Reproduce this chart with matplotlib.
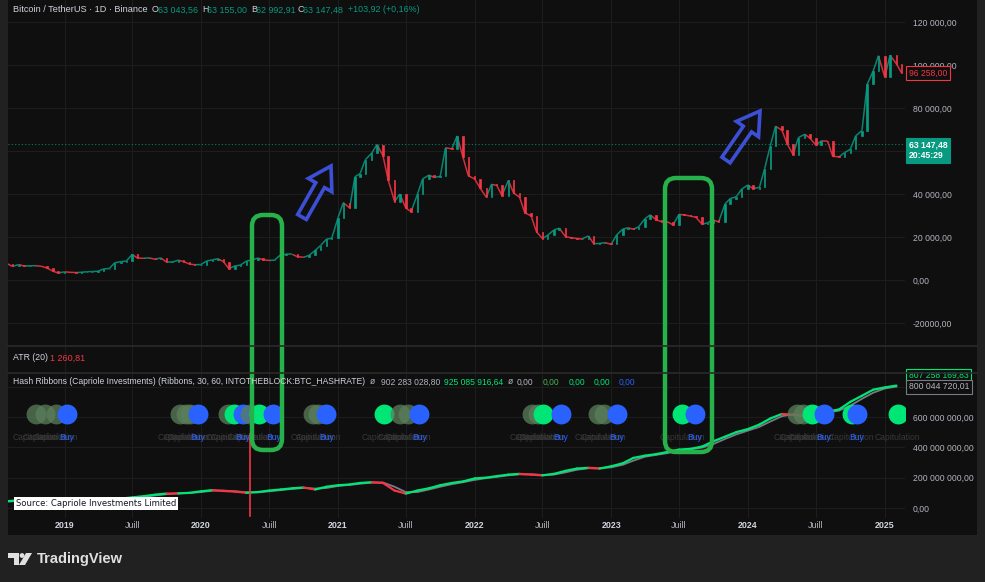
import numpy as np
import pandas as pd
import matplotlib
matplotlib.use("Agg")
import matplotlib.pyplot as plt
import matplotlib.dates as mdates
import matplotlib.transforms as mtransforms
from matplotlib.collections import LineCollection
from matplotlib.patches import Rectangle, FancyBboxPatch, Polygon

W, H = 985, 582

# BTC/USDT closes, 1st and 15th of each month from 2018-08-01
price_close = [
    7600, 6300, 7200, 6500, 6600, 6700, 6350, 5600, 4100, 3250,
    3800, 3600, 3450, 3620, 3820, 3920, 4100, 5150, 5350, 8000, 8550, 8800,
    11900, 10200, 10100, 10300, 9600, 10300, 8300, 8300, 9200, 8600, 7400, 7100,
    7200, 8800, 9400, 9900, 8500, 5300, 6600, 6900, 8800, 9300, 10200, 9400,
    9100, 9200, 11800, 11900, 11900, 10800, 10600, 11400, 13800, 16000, 19000, 19400,
    29000, 36000, 33500, 48000, 49500, 56000, 59000, 63000, 57800, 46500, 36500, 40000,
    33500, 31800, 39800, 47000, 48800, 47700, 48200, 61500, 61000, 67000, 57000, 48500,
    47000, 43000, 38500, 44500, 44000, 39300, 46300, 40500, 38500, 31300, 29800, 22500,
    19300, 20800, 23300, 24100, 20100, 19700, 19300, 19100, 20500, 16900, 17000, 17400,
    16600, 20900, 23700, 24300, 23600, 24700, 28500, 30300, 28000, 27200, 27000, 25600,
    30500, 30300, 29700, 29200, 25900, 26600, 27900, 27000, 35400, 37900, 38700, 42200,
    44200, 42500, 43100, 51800, 62400, 71500, 69700, 63400, 58300, 66200, 67800, 66000,
    62700, 64700, 64600, 57500, 57300, 59200, 60800, 67000, 69500, 91000, 97200, 104300,
    94400, 104500, 100600, 96258,
]

# hash rate, millions of TH/s, monthly from 2018-08
hash_fast = [
    45, 50, 53, 45, 38,
    42, 44, 45, 48, 55, 62, 70, 78, 88, 95, 96, 100,
    110, 118, 112, 108, 100, 105, 115, 122, 130, 135, 122, 140,
    150, 155, 165, 170, 165, 115, 95, 115, 130, 150, 165, 175,
    195, 200, 210, 220, 225, 220, 215, 225, 245, 260, 265, 260,
    275, 295, 330, 345, 355, 370, 385, 390, 405, 440, 470, 500,
    520, 550, 590, 620, 615, 605, 625, 635, 650, 700, 740, 780,
    795, 807,
]
hash_slow = [
    42, 47, 51, 48, 42,
    41, 43, 44, 46, 51, 58, 66, 74, 83, 91, 97, 99,
    105, 114, 115, 110, 104, 104, 110, 118, 126, 132, 128, 132,
    145, 152, 160, 167, 168, 140, 105, 105, 122, 140, 157, 170,
    185, 197, 205, 215, 222, 222, 218, 220, 235, 252, 262, 262,
    268, 285, 312, 338, 350, 362, 378, 387, 398, 422, 455, 485,
    510, 535, 570, 605, 618, 610, 615, 630, 642, 675, 720, 760,
    788, 800,
]

cap_dates = ['2018-10-16', '2018-11-11', '2018-12-08', '2019-11-06', '2019-11-22',
             '2019-12-03', '2020-03-14', '2020-05-12', '2020-10-27', '2020-11-09',
             '2021-06-16', '2021-07-07', '2022-06-04', '2022-06-20', '2022-11-26',
             '2022-12-12', '2024-05-11', '2024-05-27']
recovery_dates = ['2020-03-28', '2020-06-05', '2021-05-05', '2022-07-02', '2023-07-10',
                  '2024-06-20', '2024-10-05', '2025-02-05']
buy_dates = ['2019-01-07', '2019-12-24', '2020-04-21', '2020-07-12', '2020-12-01',
             '2021-08-06', '2022-08-19', '2023-01-16', '2023-08-12', '2024-07-22',
             '2024-10-18']

price_ticks = [120000, 100000, 80000, 60000, 40000, 20000, 0, -20000]
price_tick_labels = ['120 000,00', '100 000,00', '80 000,00', '', '40 000,00',
                     '20 000,00', '0,00', '-20000,00']
hash_ticks = [800, 600, 400, 200, 0]
hash_tick_labels = ['', '600 000 000,00', '400 000 000,00', '200 000 000,00', '0,00']
time_ticks = ['2019-01-01', '2019-07-01', '2020-01-01', '2020-07-01', '2021-01-01',
              '2021-07-01', '2022-01-01', '2022-07-01', '2023-01-01', '2023-07-01',
              '2024-01-01', '2024-07-01', '2025-01-01']
time_labels = ['2019', 'Juill', '2020', 'Juill', '2021', 'Juill', '2022', 'Juill',
               '2023', 'Juill', '2024', 'Juill', '2025']

last_price = 96258.00
cross_price = 63147.48

BG = '#0f0f0f'
OUT = '#212121'
GRID = '#1d1d1d'
TXT = '#b2b5be'
UP = '#089981'
DN = '#f23645'
LIME = '#00e676'
BLUE = '#2962ff'

plt.rcParams['font.family'] = ['Liberation Sans', 'DejaVu Sans']

fig = plt.figure(figsize=(W / 100, H / 100), dpi=100, facecolor=OUT)
fig.patches.append(Rectangle((8 / W, 1 - 535 / H), 969 / W, 535 / H,
                             transform=fig.transFigure, fc=BG, ec='none', zorder=-10))


def px_axes(x0, y0, x1, y1):
    return fig.add_axes([x0 / W, 1 - y1 / H, (x1 - x0) / W, (y1 - y0) / H])


ax_price = px_axes(8, 0, 905, 345)
ax_atr = px_axes(8, 346, 905, 372)
ax_hash = px_axes(8, 373, 905, 518)

xmin, xmax = pd.Timestamp('2018-08-03'), pd.Timestamp('2025-02-24')
tticks = pd.to_datetime(time_ticks)
for ax in (ax_price, ax_atr, ax_hash):
    ax.set_facecolor(BG)
    for s in ax.spines.values():
        s.set_visible(False)
    ax.set_xlim(xmin, xmax)
    ax.set_xticks(tticks)
    ax.tick_params(length=0)
    ax.grid(True, color=GRID, lw=0.8)
    ax.set_axisbelow(True)

# price: candle bodies open->close joined by a thin close line
price_dates = pd.date_range('2018-08-01', periods=len(price_close), freq='SMS')
px = mdates.date2num(price_dates)
close = np.array(price_close, dtype=float)
opens = np.r_[close[0], close[:-1]]
colors = [UP if c >= o else DN for o, c in zip(opens, close)]
segs = [[(px[i], close[i]), (px[i + 1], close[i + 1])] for i in range(len(close) - 1)]
ax_price.add_collection(LineCollection(segs, colors=colors[1:], lw=1.1, alpha=0.85, zorder=3))
ax_price.bar(price_dates, close - opens, bottom=opens, width=4, color=colors,
             edgecolor=colors, lw=0.5, zorder=4)
ax_price.set_ylim(-30230, 130230)
ax_price.set_yticks(price_ticks)
ax_price.set_yticklabels(price_tick_labels)
ax_price.yaxis.tick_right()
ax_price.tick_params(axis='y', pad=5.5, labelsize=6.2, labelcolor=TXT)
ax_price.set_xticklabels([])
ax_price.axhline(cross_price, color=UP, ls=(0, (1, 2)), lw=0.8, alpha=0.8)


def value_tag(ax, y, text, fg, fc, ec, dy=0, weight='normal'):
    tr = mtransforms.offset_copy(ax.get_yaxis_transform(), fig=fig, x=4, y=dy, units='dots')
    ax.text(1, y, text, transform=tr, color=fg, fontsize=6.2, ha='left', va='center',
            weight=weight, linespacing=1.25, clip_on=False, zorder=6,
            bbox=dict(boxstyle='square,pad=0.3', fc=fc, ec=ec, lw=0.8))


value_tag(ax_price, last_price, '96 258,00', DN, BG, DN)
value_tag(ax_price, cross_price, '63 147,48\n20:45:29', 'white', UP, UP, dy=-6, weight='bold')

ax_atr.set_ylim(0, 1)
ax_atr.set_yticks([])
ax_atr.set_xticklabels([])

# hash ribbons
hash_dates = pd.date_range('2018-08-01', periods=len(hash_fast), freq='MS')
hx = mdates.date2num(hash_dates)
fast = np.array(hash_fast, dtype=float)
slow = np.array(hash_slow, dtype=float)
ax_hash.plot(hash_dates, slow, color='#787b86', lw=1.3, zorder=3)
segs = [[(hx[i], fast[i]), (hx[i + 1], fast[i + 1])] for i in range(len(fast) - 1)]
seg_cols = [LIME if fast[i + 1] >= slow[i + 1] else DN for i in range(len(fast) - 1)]
ax_hash.add_collection(LineCollection(segs, colors=seg_cols, lw=1.6, zorder=4,
                                      capstyle='round'))
ax_hash.set_ylim(-66, 890)
ax_hash.set_yticks(hash_ticks)
ax_hash.set_yticklabels(hash_tick_labels)
ax_hash.yaxis.tick_right()
ax_hash.tick_params(axis='y', pad=5.5, labelsize=6.2, labelcolor=TXT)
ax_hash.set_xticklabels(time_labels)
ax_hash.tick_params(axis='x', pad=2.5, labelsize=6.4, labelcolor='#d1d4dc')
for lab in ax_hash.get_xticklabels():
    if lab.get_text() != 'Juill':
        lab.set_fontweight('bold')
    else:
        lab.set_color(TXT)

value_tag(ax_hash, hash_fast[-1], '807 258 169,83', LIME, BG, LIME, dy=10)
value_tag(ax_hash, hash_slow[-1], '800 044 720,01', TXT, BG, '#787b86')

# signal circles, drawn in time order like the indicator
sig = [(pd.Timestamp(d), '#5b7f5b', 0.75, 'Capitulation') for d in cap_dates]
sig += [(pd.Timestamp(d), LIME, 1.0, 'Capitulation') for d in recovery_dates]
sig += [(pd.Timestamp(d), BLUE, 1.0, 'Buy') for d in buy_dates]
sig.sort(key=lambda s: s[0])
sig_level = 620
for d, c, a, lab in sig:
    ax_hash.scatter([d], [sig_level], s=205, color=c, alpha=a, lw=0, zorder=5)
lab_tr = mtransforms.offset_copy(ax_hash.transData, fig=fig, y=-24, units='dots')
for d, c, a, lab in sig:
    if lab == 'Capitulation':
        ax_hash.text(d, sig_level, lab, transform=lab_tr, color='#383838', fontsize=6.2,
                     ha='center', va='center', zorder=5)
for d, c, a, lab in sig:
    if lab == 'Buy':
        ax_hash.text(d, sig_level, lab, transform=lab_tr, color=BLUE, fontsize=6.2,
                     ha='center', va='center', zorder=6)

ax_hash.axvline(pd.Timestamp('2020-05-11'), ymin=0.015, ymax=0.58, color=DN, lw=1.2, zorder=6)

# overlay in pixel coordinates
ov = fig.add_axes([0, 0, 1, 1], facecolor='none', zorder=10)
ov.set_xlim(0, W)
ov.set_ylim(H, 0)
ov.axis('off')

for y in (345.5, 372.5):
    ov.plot([8, 977], [y, y], color='#2a2a2a', lw=1.2)

ov.text(13, 10, 'Bitcoin / TetherUS · 1D · Binance', color='#d1d4dc', fontsize=6.55, va='center')
hdr = [(152, 'O', '#d1d4dc'), (158, '63 043,56', UP), (202, 'H', '#d1d4dc'), (207, '63 155,00', UP),
       (251, 'B', '#d1d4dc'), (256, '62 992,91', UP), (298, 'C', '#d1d4dc'), (303, '63 147,48', UP),
       (348, '+103,92 (+0,16%)', UP)]
for x, s, c in hdr:
    ov.text(x, 10, s, color=c, fontsize=6.4, va='center')

ov.text(13, 358, 'ATR (20)', color='#d1d4dc', fontsize=6.3, va='center')
ov.text(50, 358, '1 260,81', color=DN, fontsize=6.5, va='center')

ov.text(13, 382, 'Hash Ribbons (Capriole Investments) (Ribbons, 30, 60, INTOTHEBLOCK:BTC_HASHRATE)',
        color='#d1d4dc', fontsize=6.15, va='center')
leg = [(370, 'ø', TXT), (381, '902 283 028,80', TXT), (444, '925 085 916,64', LIME),
       (508, 'ø', TXT), (517, '0,00', TXT), (543, '0,00', '#4caf50'), (569, '0,00', LIME),
       (594, '0,00', LIME), (619, '0,00', BLUE)]
for x, s, c in leg:
    ov.text(x, 382, s, color=c, fontsize=6.15, va='center')

ov.text(16, 503.5, 'Source: Capriole Investments Limited', color='#131722', fontsize=6.1,
        family='DejaVu Sans', va='center',
        bbox=dict(boxstyle='square,pad=0.2', fc='white', ec='none'))

# hand-drawn annotations
GREEN = '#27b14a'
for x0, y0, x1, y1 in [(252, 215, 282, 450), (665, 178, 712, 452)]:
    ov.add_patch(FancyBboxPatch((x0, y0), x1 - x0, y1 - y0,
                                boxstyle='round,pad=0,rounding_size=11',
                                fill=False, ec=GREEN, lw=3.2))


def arrow_outline(p0, p1, shaft=10, head=27, head_len=22):
    p0, p1 = np.array(p0, float), np.array(p1, float)
    u = (p1 - p0) / np.linalg.norm(p1 - p0)
    n = np.array([-u[1], u[0]])
    b = p1 - u * head_len
    return [p0 + n * shaft / 2, b + n * shaft / 2, b + n * head / 2, p1,
            b - n * head / 2, b - n * shaft / 2, p0 - n * shaft / 2]


for tail, tip in [((302, 217), (331, 166)), ((726, 160), (760, 111))]:
    ov.add_patch(Polygon(arrow_outline(tail, tip), closed=True, fill=False,
                         ec='#3d4fd6', lw=2.6, joinstyle='miter'))

# TradingView footer
ov.add_patch(Polygon([(8, 553), (19, 553), (19, 565), (14, 565), (14, 558), (8, 558)],
                     closed=True, fc='#e0e0e0', ec='none'))
ov.add_patch(plt.Circle((22, 555.5), 2.4, fc='#e0e0e0', ec='none'))
ov.add_patch(Polygon([(26, 553), (32, 553), (25, 565), (19, 565)],
                     closed=True, fc='#e0e0e0', ec='none'))
ov.text(37, 559, 'TradingView', color='#e0e0e0', fontsize=10.5, weight='bold', va='center')

fig.savefig('out.png', dpi=100, facecolor=OUT)
